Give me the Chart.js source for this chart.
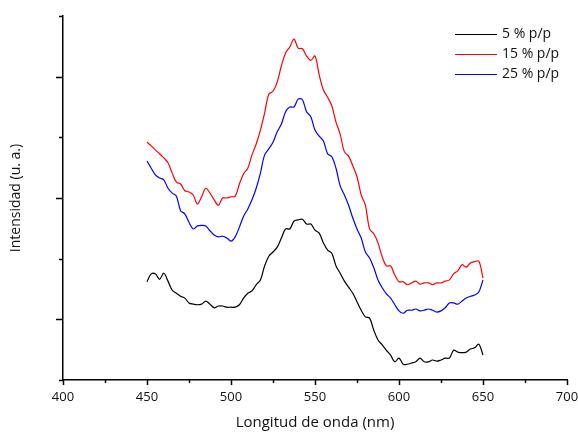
<!DOCTYPE html>
<html>
<head>
<meta charset="utf-8">
<script src="https://cdn.jsdelivr.net/npm/chart.js@4.4.1/dist/chart.umd.min.js"></script>
<style>
  html, body { margin: 0; padding: 0; background: #fff; }
  #wrap { width: 578px; height: 432px; }
</style>
</head>
<body>
<div id="wrap"><canvas id="espectro" width="578" height="432"></canvas></div>
<script>
// longitud de onda (nm)
const wavelengths = [450, 452.5, 455, 457.5, 460, 462.5, 465, 467.5, 470, 472.5, 475, 477.5, 480, 482.5, 485, 487.5, 490, 492.5, 495, 497.5,
  500, 502.5, 505, 507.5, 510, 512.5, 515, 517.5, 520, 522.5, 525, 527.5, 530, 532.5, 535, 537.5, 540, 542.5, 545, 547.5,
  550, 552.5, 555, 557.5, 560, 562.5, 565, 567.5, 570, 572.5, 575, 577.5, 580, 582.5, 585, 587.5, 590, 592.5, 595, 597.5,
  600, 602.5, 605, 607.5, 610, 612.5, 615, 617.5, 620, 622.5, 625, 627.5, 630, 632.5, 635, 637.5, 640, 642.5, 645, 647.5, 650];

const pp5 = [1620, 1750, 1750, 1660, 1760, 1630, 1480, 1430, 1380, 1350, 1270, 1250, 1240, 1250, 1300, 1250, 1190, 1220, 1220, 1200,
  1200, 1200, 1240, 1350, 1430, 1470, 1570, 1650, 1880, 2040, 2110, 2190, 2340, 2490, 2490, 2620, 2640, 2650, 2570, 2570,
  2470, 2420, 2260, 2140, 2090, 1880, 1760, 1630, 1530, 1430, 1290, 1150, 1040, 1020, 820, 660, 580, 490, 410, 300,
  360, 260, 260, 280, 300, 360, 300, 300, 330, 310, 330, 360, 360, 490, 460, 450, 460, 510, 530, 590, 410];

const pp15 = [3920, 3860, 3790, 3730, 3660, 3580, 3410, 3260, 3230, 3120, 3100, 3050, 2900, 3020, 3160, 3080, 2970, 2880, 3000, 3000,
  3020, 3030, 3230, 3400, 3490, 3710, 3890, 4120, 4400, 4710, 4760, 4910, 5180, 5390, 5490, 5620, 5470, 5460, 5340, 5270,
  5340, 5030, 4780, 4660, 4520, 4250, 4050, 3760, 3690, 3530, 3350, 3050, 2880, 2490, 2410, 2260, 2030, 1880, 1880, 1730,
  1620, 1620, 1570, 1600, 1630, 1580, 1600, 1600, 1570, 1600, 1600, 1630, 1650, 1750, 1800, 1900, 1860, 1930, 1950, 1960, 1680];

const pp25 = [3610, 3490, 3380, 3330, 3300, 3160, 3080, 3030, 2790, 2740, 2600, 2490, 2540, 2550, 2540, 2460, 2390, 2360, 2370, 2340,
  2290, 2360, 2520, 2700, 2820, 2970, 3160, 3410, 3710, 3810, 3920, 4090, 4220, 4420, 4500, 4500, 4630, 4620, 4420, 4340,
  4120, 4020, 3940, 3730, 3680, 3490, 3200, 3050, 2880, 2670, 2490, 2340, 2110, 2010, 1850, 1650, 1520, 1420, 1350, 1240,
  1140, 1100, 1150, 1150, 1170, 1140, 1150, 1170, 1150, 1120, 1140, 1190, 1270, 1270, 1250, 1300, 1350, 1380, 1400, 1450, 1650];

const seriesLabels = ['5 % p/p', '15 % p/p', '25 % p/p'];
const seriesColors = ['#000000', '#ff0000', '#0000ff'];
const xTicks = [400, 450, 500, 550, 600, 650, 700];
const xMinorTicks = [425, 475, 525, 575, 625, 675];
const yMajorTicks = [1000, 3000, 5000];
const yMinorTicks = [0, 2000, 4000, 6000];

const FONT = 'Open Sans, "DejaVu Sans", sans-serif';

function toPoints(ys) {
  return ys.map((y, i) => ({ x: wavelengths[i], y: y }));
}

// marcas de eje hacia afuera (mayores y menores)
const axisTicks = {
  id: 'axisTicks',
  afterDraw(chart) {
    const c = chart.ctx;
    const xs = chart.scales.x, ys = chart.scales.y;
    const area = chart.chartArea;
    c.save();
    c.strokeStyle = '#000';
    c.lineWidth = 1.5;
    c.beginPath();
    xTicks.forEach(v => {
      const p = Math.round(xs.getPixelForValue(v)) + 0.5;
      c.moveTo(p, area.bottom); c.lineTo(p, area.bottom + 5);
    });
    xMinorTicks.forEach(v => {
      const p = Math.round(xs.getPixelForValue(v)) + 0.5;
      c.moveTo(p, area.bottom); c.lineTo(p, area.bottom + 3);
    });
    yMajorTicks.forEach(v => {
      const p = Math.round(ys.getPixelForValue(v)) + 0.5;
      c.moveTo(area.left, p); c.lineTo(area.left - 7, p);
    });
    yMinorTicks.forEach(v => {
      const p = Math.round(ys.getPixelForValue(v)) + 0.5;
      c.moveTo(area.left, p); c.lineTo(area.left - 4, p);
    });
    c.stroke();
    c.restore();
  }
};

// leyenda dibujada dentro del area
const insideLegend = {
  id: 'insideLegend',
  afterDraw(chart) {
    const c = chart.ctx;
    c.save();
    c.font = '14px ' + FONT;
    c.textBaseline = 'middle';
    c.textAlign = 'left';
    chart.data.datasets.forEach((ds, i) => {
      const y = 34 + i * 20;
      c.strokeStyle = ds.borderColor;
      c.lineWidth = 1.2;
      c.beginPath();
      c.moveTo(455, y + 0.5); c.lineTo(497, y + 0.5);
      c.stroke();
      c.fillStyle = '#111';
      c.fillText(ds.label, 502, y);
    });
    c.restore();
  }
};

new Chart(document.getElementById('espectro'), {
  type: 'line',
  data: {
    datasets: [
      { label: seriesLabels[0], data: toPoints(pp5), borderColor: seriesColors[0] },
      { label: seriesLabels[1], data: toPoints(pp15), borderColor: seriesColors[1] },
      { label: seriesLabels[2], data: toPoints(pp25), borderColor: seriesColors[2] }
    ]
  },
  options: {
    responsive: false,
    animation: false,
    parsing: false,
    layout: { padding: { top: 16, right: 0, left: 0, bottom: 0 } },
    elements: {
      point: { radius: 0 },
      line: { borderWidth: 1.2, tension: 0.35, fill: false }
    },
    plugins: {
      legend: { display: false },
      tooltip: { enabled: false }
    },
    scales: {
      x: {
        type: 'linear',
        min: 400,
        max: 700,
        afterFit(s) { s.height = 52; s.paddingRight = 11; },
        grid: { display: false, drawTicks: false },
        border: { display: true, color: '#000', width: 1.5 },
        ticks: {
          stepSize: 50,
          padding: 9,
          color: '#111',
          font: { size: 13, family: FONT }
        },
        title: {
          display: true,
          text: 'Longitud de onda (nm)',
          color: '#111',
          font: { size: 15, family: FONT },
          padding: { top: 0, bottom: 0 }
        }
      },
      y: {
        min: 0,
        max: 6000,
        afterFit(s) { s.width = 63; },
        grid: { display: false, drawTicks: false },
        border: { display: true, color: '#000', width: 1.5 },
        ticks: { display: false, stepSize: 1000 },
        title: {
          display: true,
          text: 'Intensidad (u. a.)',
          color: '#111',
          font: { size: 14, family: FONT },
          padding: { top: 8, bottom: 0 }
        }
      }
    }
  },
  plugins: [axisTicks, insideLegend]
});
</script>
</body>
</html>
